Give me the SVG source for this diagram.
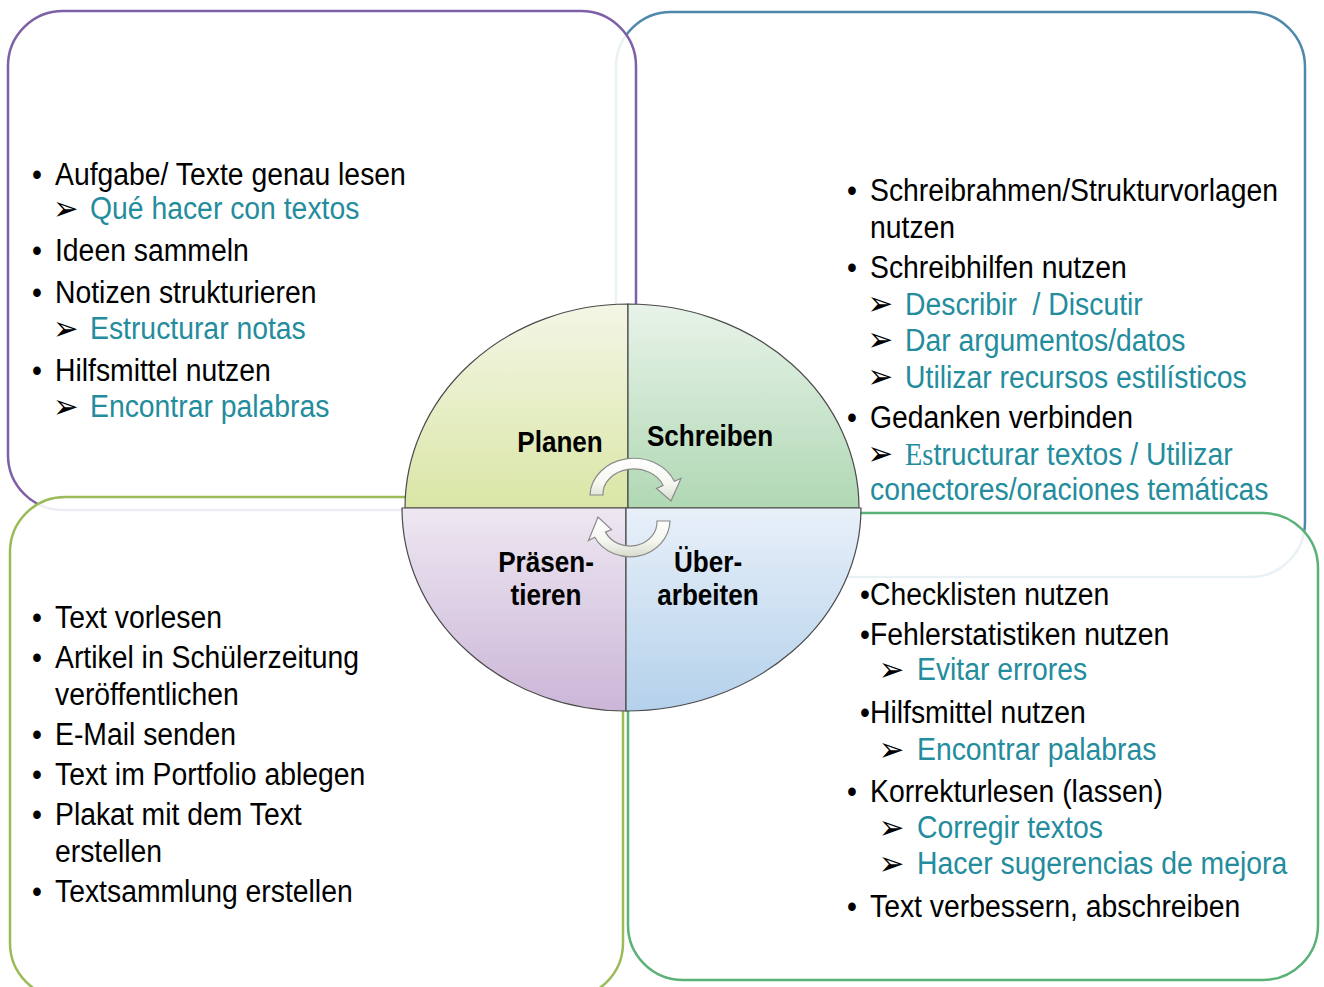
<svg xmlns="http://www.w3.org/2000/svg" width="1324" height="987" viewBox="0 0 1324 987">
<defs>
<style>
.box{fill:#ffffff;fill-opacity:0.88;stroke-width:2.5}
.t{font-family:"Liberation Sans",Arial,sans-serif;font-size:31.5px;fill:#000}
.s{font-family:"Liberation Sans",Arial,sans-serif;font-size:31.5px;fill:#238C9D}
.ar{font-family:"DejaVu Sans",sans-serif;font-size:34px;fill:#000}
.lbl{font-family:"Liberation Sans",Arial,sans-serif;font-size:30px;font-weight:bold;fill:#000;text-anchor:middle}
.pie{stroke:#4a4a4a;stroke-width:1.2}
.arrow{fill:url(#gArrow);stroke:#8a8a8a;stroke-width:1.2}
</style>
<linearGradient id="gPlan" x1="0" y1="0" x2="0" y2="1"><stop offset="0" stop-color="#F3F6E6"/><stop offset="1" stop-color="#DAE6A6"/></linearGradient>
<linearGradient id="gSchr" x1="0" y1="0" x2="0" y2="1"><stop offset="0" stop-color="#E8F3E9"/><stop offset="1" stop-color="#B0D8B4"/></linearGradient>
<linearGradient id="gPraes" x1="0" y1="0" x2="0" y2="1"><stop offset="0" stop-color="#EEE7F1"/><stop offset="1" stop-color="#CBB6D8"/></linearGradient>
<linearGradient id="gUeber" x1="0" y1="0" x2="0" y2="1"><stop offset="0" stop-color="#E8F0F9"/><stop offset="1" stop-color="#B4D1EB"/></linearGradient>
<linearGradient id="gArrow" x1="0" y1="0" x2="0" y2="1"><stop offset="0" stop-color="#FFFFFF"/><stop offset="0.6" stop-color="#F5F7F0"/><stop offset="1" stop-color="#D6DBCC"/></linearGradient>
</defs>

<!-- boxes -->
<g id="box-schreiben">
<rect class="box" x="616" y="12" width="689" height="565" rx="55" ry="55" stroke="#4F88AA"/>
<g transform="scale(0.9,1)">
<text class="t" x="941" y="201">•</text>
<text class="t" x="966.7" y="201">Schreibrahmen/Strukturvorlagen</text>
<text class="t" x="966.7" y="238">nutzen</text>
<text class="t" x="941" y="278">•</text>
<text class="t" x="966.7" y="278">Schreibhilfen nutzen</text>
<text class="ar" x="964" y="315">➢</text>
<text class="s" x="1005.6" y="315" style="white-space:pre">Describir  / Discutir</text>
<text class="ar" x="964" y="351">➢</text>
<text class="s" x="1005.6" y="351">Dar argumentos/datos</text>
<text class="ar" x="964" y="388">➢</text>
<text class="s" x="1005.6" y="388">Utilizar recursos estilísticos</text>
<text class="t" x="941" y="428">•</text>
<text class="t" x="966.7" y="428">Gedanken verbinden</text>
<text class="ar" x="964" y="465">➢</text>
<text class="s" x="1005.6" y="465"><tspan font-family="Liberation Serif">Es</tspan>tructurar textos / Utilizar</text>
<text class="s" x="966.7" y="500">conectores/oraciones temáticas</text>
</g>
</g>

<g id="box-planen">
<rect class="box" x="8" y="11" width="628" height="499" rx="55" ry="55" stroke="#7E60A6"/>
<g transform="scale(0.9,1)">
<text class="t" x="35.6" y="185">•</text>
<text class="t" x="61.1" y="185">Aufgabe/ Texte genau lesen</text>
<text class="ar" x="59" y="220">➢</text>
<text class="s" x="100" y="219">Qué hacer con textos</text>
<text class="t" x="35.6" y="261">•</text>
<text class="t" x="61.1" y="261">Ideen sammeln</text>
<text class="t" x="35.6" y="303">•</text>
<text class="t" x="61.1" y="303">Notizen strukturieren</text>
<text class="ar" x="59" y="340">➢</text>
<text class="s" x="100" y="339">Estructurar notas</text>
<text class="t" x="35.6" y="381">•</text>
<text class="t" x="61.1" y="381">Hilfsmittel nutzen</text>
<text class="ar" x="59" y="418">➢</text>
<text class="s" x="100" y="417">Encontrar palabras</text>
</g>
</g>

<g id="box-praesentieren">
<rect class="box" x="10" y="497" width="613" height="501" rx="55" ry="55" stroke="#9BBB59"/>
<g transform="scale(0.9,1)">
<text class="t" x="35.6" y="628">•</text>
<text class="t" x="61.1" y="628">Text vorlesen</text>
<text class="t" x="35.6" y="668">•</text>
<text class="t" x="61.1" y="668">Artikel in Schülerzeitung</text>
<text class="t" x="61.1" y="705">veröffentlichen</text>
<text class="t" x="35.6" y="745">•</text>
<text class="t" x="61.1" y="745">E-Mail senden</text>
<text class="t" x="35.6" y="785">•</text>
<text class="t" x="61.1" y="785">Text im Portfolio ablegen</text>
<text class="t" x="35.6" y="825">•</text>
<text class="t" x="61.1" y="825">Plakat mit dem Text</text>
<text class="t" x="61.1" y="862">erstellen</text>
<text class="t" x="35.6" y="902">•</text>
<text class="t" x="61.1" y="902">Textsammlung erstellen</text>
</g>
</g>

<g id="box-ueberarbeiten">
<rect class="box" x="628" y="513" width="690" height="467" rx="55" ry="55" stroke="#5AB277"/>
<g transform="scale(0.9,1)">
<text class="t" x="955.6" y="605">•Checklisten nutzen</text>
<text class="t" x="955.6" y="645">•Fehlerstatistiken nutzen</text>
<text class="ar" x="976.5" y="681">➢</text>
<text class="s" x="1018.9" y="680">Evitar errores</text>
<text class="t" x="955.6" y="723">•Hilfsmittel nutzen</text>
<text class="ar" x="976.5" y="761">➢</text>
<text class="s" x="1018.9" y="760">Encontrar palabras</text>
<text class="t" x="941" y="802">•</text>
<text class="t" x="966.7" y="802">Korrekturlesen (lassen)</text>
<text class="ar" x="976.5" y="839">➢</text>
<text class="s" x="1018.9" y="838">Corregir textos</text>
<text class="ar" x="976.5" y="875">➢</text>
<text class="s" x="1018.9" y="874">Hacer sugerencias de mejora</text>
<text class="t" x="941" y="917">•</text>
<text class="t" x="966.7" y="917">Text verbessern, abschreiben</text>
</g>
</g>

<!-- cycle circle -->
<g id="quadrant-planen">
<path class="pie" d="M628,508 L405,508 A223,204 0 0 1 628,304 Z" fill="url(#gPlan)"/>
</g>
<g id="quadrant-schreiben">
<path class="pie" d="M628,508 L628,304 A231,204 0 0 1 859,508 Z" fill="url(#gSchr)"/>
</g>
<g id="quadrant-praesentieren">
<path class="pie" d="M626,508 L402,508 A224,203 0 0 0 626,711 Z" fill="url(#gPraes)"/>
</g>
<g id="quadrant-ueberarbeiten">
<path class="pie" d="M626,508 L861,508 A235,203 0 0 1 626,711 Z" fill="url(#gUeber)"/>
</g>

<g id="connectors">
<path class="arrow" d="M590,495 A44,38 0 0 1 674.4,481.3 L681,478.5 L671,501 L656.5,488.5 L663.1,485.4 A31,25 0 0 0 603,495 Z"/>
<path class="arrow" d="M670,521 A40,37 0 0 1 594.7,537.2 L588.5,540.5 L598,517 L611.5,529.5 L605.5,532.1 A27,24 0 0 0 657,521 Z"/>
</g>

<g id="labels" transform="scale(0.87,1)">
<text class="lbl" x="643.7" y="452">Planen</text>
<text class="lbl" x="816.1" y="446">Schreiben</text>
<text class="lbl" x="627.6" y="572">Präsen-</text>
<text class="lbl" x="627.6" y="605">tieren</text>
<text class="lbl" x="813.8" y="572">Über-</text>
<text class="lbl" x="813.8" y="605">arbeiten</text>
</g>
</svg>
